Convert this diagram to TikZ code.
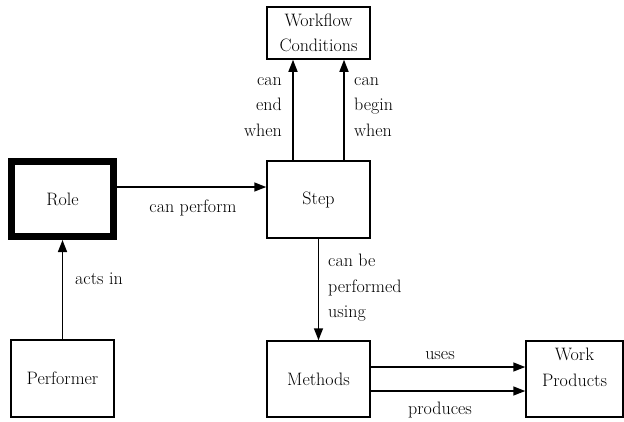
\documentclass[tikz,border=0pt]{standalone}
\usetikzlibrary{arrows.meta}
\begin{document}
\begin{tikzpicture}[x=1pt,y=-1pt,
  every node/.style={font=\fontsize{18}{25.5}\selectfont},
  box/.style={draw, line width=1.5pt, minimum width=103pt, minimum height=76pt, inner sep=0pt, align=center},
  lbl/.style={inner sep=0pt},
  arr/.style={line width=1.5pt, -{Triangle[length=12pt,width=9pt]}}]
\useasboundingbox (0,0) rectangle (624,421);
% boxes
\node[box, line width=7pt, minimum width=102pt, minimum height=75pt] (role) at (62.5,199) {Role};
\node[box, minimum height=77pt] (step) at (318.5,199.5) {Step};
\node[box, minimum height=52pt] (wc) at (318.5,33) {Workflow\\Conditions};
\node[box] (meth) at (318.5,379) {Methods};
\node[box, minimum width=97pt] (wp) at (574.5,379) {};
\node[lbl, align=center, anchor=north] (wptext) at ([yshift=-8pt]wp.north) {Work\\Products};
\node[box, minimum height=77pt] (perf) at (62.5,378.5) {Performer};
% helper coordinates
\coordinate (xa) at (293,0);
\coordinate (xb) at (344,0);
\coordinate (xd) at (318.5,0);
\coordinate (ya) at (0,187);
\coordinate (yb) at (0,367);
\coordinate (yc) at (0,391);
% connectors
\draw[arr] (role.east |- ya) -- (step.west |- ya);
\draw[arr] (xa |- step.north) -- (xa |- wc.south);
\draw[arr] (xb |- step.north) -- (xb |- wc.south);
\draw[arr] (xd |- step.south) -- (xd |- meth.north);
\draw[arr] (perf.north) -- (role.south);
\draw[arr] (meth.east |- yb) -- (wp.west |- yb);
\draw[arr] (meth.east |- yc) -- (wp.west |- yc);
% labels
\node[lbl] (lperf) at (193,208) {can perform};
\node[lbl, align=right, anchor=east] (lend) at (282,107) {can\\end\\when};
\node[lbl, align=left, anchor=west] (lbegin) at (354,107) {can\\begin\\when};
\node[lbl, align=left, anchor=west] (lusing) at (328,288) {can be\\performed\\using};
\node[lbl, anchor=west] (lacts) at (75,279) {acts in};
\node[lbl] (luses) at (440,356) {uses};
\node[lbl] (lprod) at (440,410) {produces};
\end{tikzpicture}
\end{document}
